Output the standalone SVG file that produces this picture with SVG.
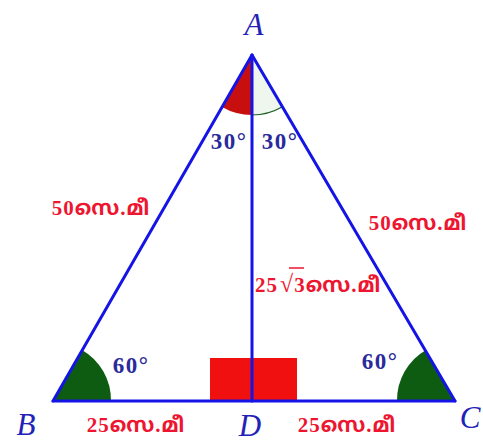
<svg xmlns="http://www.w3.org/2000/svg" width="483" height="448" viewBox="0 0 483 448">
<style>
.edge{stroke:#1414e6;stroke-width:3;fill:none;stroke-linecap:round}
.vl{font-family:"Liberation Serif","DejaVu Serif",serif;font-style:italic;font-size:31px;fill:#2222b8}
.ang{font-family:"Liberation Serif","DejaVu Serif",serif;font-weight:bold;font-size:23px;letter-spacing:1.5px;fill:#2a2a9a}
.len{font-family:"Liberation Serif","Noto Sans Malayalam","Noto Sans","DejaVu Sans",serif;font-weight:bold;font-size:21px;letter-spacing:1px;fill:#ee1530}
</style>
<rect width="483" height="448" fill="#ffffff"/>
<g id="marks">
<rect x="210" y="358" width="87" height="43" fill="#f01010"/>
<path d="M252,55 L222,107 A60,60 0 0 0 252,115 Z" fill="#c80f0f"/>
<path d="M252,55 L252,115 A60,60 0 0 0 282,107 Z" fill="#eef6ee"/>
<path d="M252,115 A60,60 0 0 0 282,107" fill="none" stroke="#1b5e20" stroke-width="1.2"/>
<path d="M53,401 L82,350 A58,58 0 0 1 111,401 Z" fill="#0d5c12"/>
<path d="M455,401 L426,350 A58,58 0 0 0 397,401 Z" fill="#0d5c12"/>
</g>
<g id="connectors">
<line class="edge" x1="252" y1="55" x2="53" y2="401"/>
<line class="edge" x1="252" y1="55" x2="455" y2="401"/>
<line class="edge" x1="53" y1="401" x2="455" y2="401"/>
<line class="edge" x1="252" y1="55" x2="252" y2="401"/>
</g>
<g id="node-A"><text class="vl" x="254" y="35" text-anchor="middle">A</text></g>
<g id="node-B"><text class="vl" x="26" y="435" text-anchor="middle">B</text></g>
<g id="node-D"><text class="vl" x="250" y="436" text-anchor="middle">D</text></g>
<g id="node-C"><text class="vl" x="470" y="428" text-anchor="middle">C</text></g>
<g id="angles">
<text class="ang" x="229" y="149" text-anchor="middle">30°</text>
<text class="ang" x="280" y="149" text-anchor="middle">30°</text>
<text class="ang" x="131" y="373" text-anchor="middle">60°</text>
<text class="ang" x="380" y="369" text-anchor="middle">60°</text>
</g>
<g id="lengths">
<text class="len" x="101" y="215" text-anchor="middle">50സെ.മീ</text>
<text class="len" x="418" y="230" text-anchor="middle">50സെ.മീ</text>
<text class="len" x="136" y="432" text-anchor="middle">25സെ.മീ</text>
<text class="len" x="347" y="432" text-anchor="middle">25സെ.മീ</text>
<text class="len" x="255" y="292">25<tspan dx="2" font-size="24px">√</tspan>3സെ.മീ</text>
<line x1="289" y1="268" x2="304" y2="268" stroke="#ee1530" stroke-width="1.5"/>
</g>
</svg>
